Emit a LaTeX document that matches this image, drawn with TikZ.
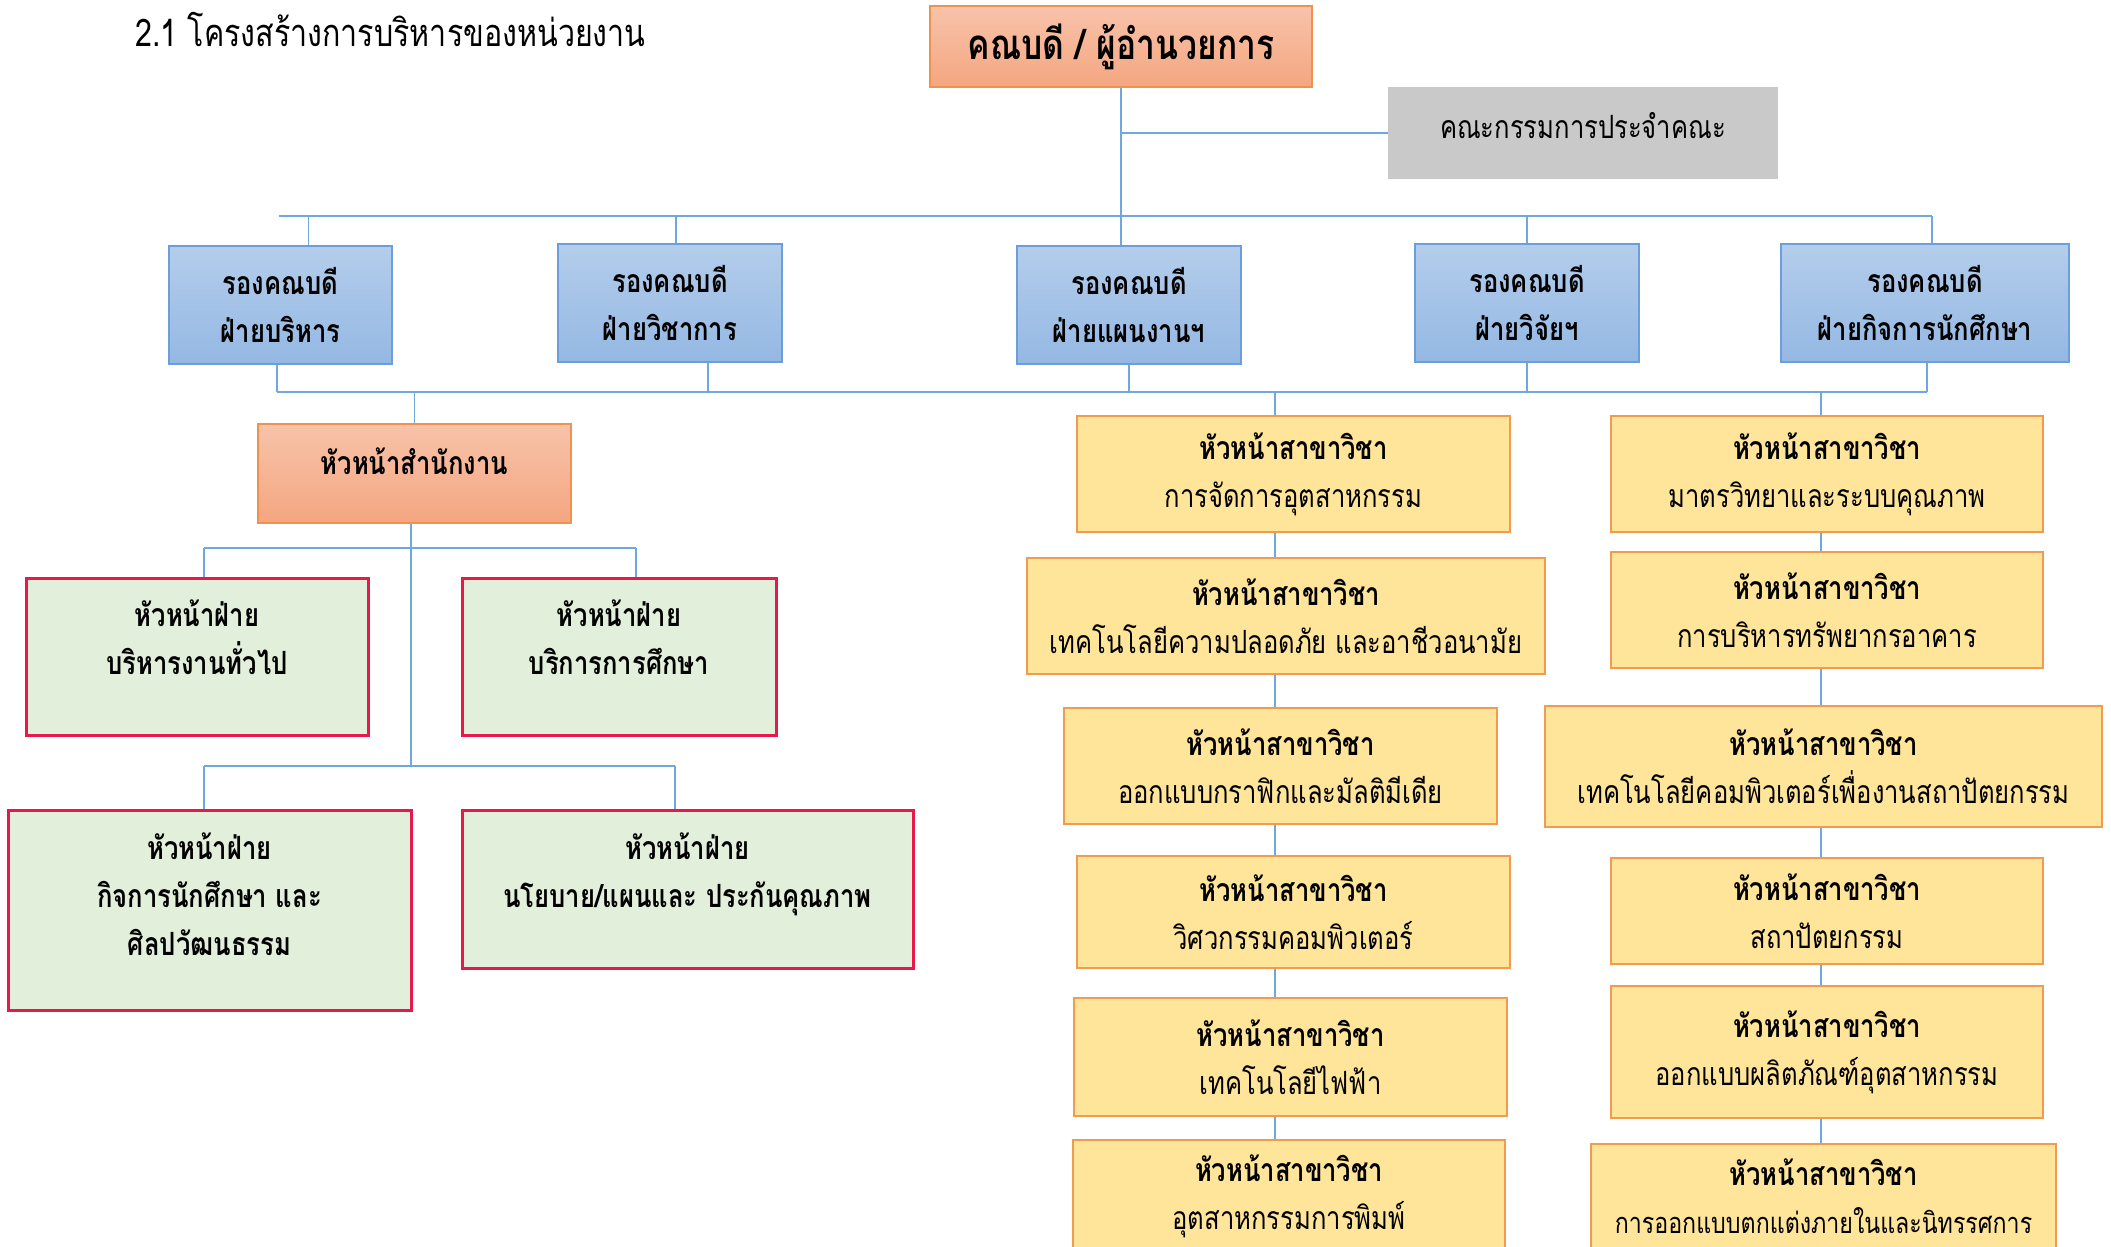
\documentclass[tikz,border=0pt]{standalone}
\usepackage{fontspec}
\newfontfamily\thaifont[Script=Thai, FakeStretch=0.8]{Loma}

\definecolor{peachtop}{HTML}{F8C3AA}
\definecolor{peachbot}{HTML}{F4A680}
\definecolor{peachline}{HTML}{F0924F}
\definecolor{bluetop}{HTML}{B4CDEB}
\definecolor{bluebot}{HTML}{94B8E3}
\definecolor{blueline}{HTML}{6A9FDB}
\definecolor{boardgray}{HTML}{C9C9C9}
\definecolor{greenfill}{HTML}{E2EFDA}
\definecolor{redline}{HTML}{E9184B}
\definecolor{yellowfill}{HTML}{FFE59A}
\definecolor{yellowline}{HTML}{F29B4E}
\definecolor{linkblue}{HTML}{6FA8DC}

\tikzset{
    sz/.style 2 args={minimum width=#1*0.5pt, minimum height=#2*0.5pt},
    txt/.style={font=\thaifont\fontsize{16}{24}\selectfont, align=center, inner sep=0pt, text=black},
    deanbox/.style={txt, draw=peachline, line width=1pt, top color=peachtop, bottom color=peachbot},
    boardbox/.style={txt, fill=boardgray},
    vicebox/.style={txt, draw=blueline, line width=1pt, top color=bluetop, bottom color=bluebot},
    unitbox/.style={txt, draw=redline, line width=1.5pt, fill=greenfill},
    headbox/.style={txt, draw=yellowline, line width=1pt, fill=yellowfill},
    raise/.style={text depth=#1},
    link/.style={draw=linkblue, line width=0.75pt},
    bus/.style={draw=linkblue, line width=1.2pt}
}

\begin{document}
\begin{tikzpicture}[x=0.5pt, y=-0.5pt]
    \clip (0,0) rectangle (2111,1247);
    \fill[white] (0,0) rectangle (2111,1247);

    \node[txt, anchor=west, font=\thaifont\fontsize{19}{24}\selectfont] (title) at (135,29) {2.1 โครงสร้างการบริหารของหน่วยงาน};

    % top level
    \node[deanbox, sz={382}{81}, font=\thaifont\bfseries\fontsize{21}{24}\selectfont] (top) at (1121,46.5) {คณบดี / ผู้อำนวยการ};
    \node[boardbox, sz={390}{92}, raise=8pt] (board) at (1583,133) {คณะกรรมการประจำคณะ};

    % vice deans
    \node[vicebox, sz={223}{118}] (v1) at (280.5,305) {\bfseries รองคณบดี\\\bfseries ฝ่ายบริหาร};
    \node[vicebox, sz={224}{118}] (v2) at (670,303) {\bfseries รองคณบดี\\\bfseries ฝ่ายวิชาการ};
    \node[vicebox, sz={224}{118}] (v3) at (1129,305) {\bfseries รองคณบดี\\\bfseries ฝ่ายแผนงานฯ};
    \node[vicebox, sz={224}{118}] (v4) at (1527,303) {\bfseries รองคณบดี\\\bfseries ฝ่ายวิจัยฯ};
    \node[vicebox, sz={288}{118}] (v5) at (1925,303) {\bfseries รองคณบดี\\\bfseries ฝ่ายกิจการนักศึกษา};

    % office
    \node[deanbox, sz={313}{99}, raise=12pt] (office) at (414.5,473.5) {\bfseries หัวหน้าสำนักงาน};
    \node[unitbox, sz={342}{157}, raise=19pt] (ga) at (197,656.5) {\bfseries หัวหน้าฝ่าย\\\bfseries บริหารงานทั่วไป};
    \node[unitbox, sz={314}{157}, raise=19pt] (gb) at (619,656.5) {\bfseries หัวหน้าฝ่าย\\\bfseries บริการการศึกษา};
    \node[unitbox, sz={403}{200}, raise=16pt] (gc) at (209.5,910) {\bfseries หัวหน้าฝ่าย\\\bfseries กิจการนักศึกษา และ\\\bfseries ศิลปวัฒนธรรม};
    \node[unitbox, sz={451}{158}, raise=19pt] (gd) at (687.5,889) {\bfseries หัวหน้าฝ่าย\\\bfseries นโยบาย/แผนและ ประกันคุณภาพ};

    % programme heads, left column
    \node[headbox, sz={433}{116}] (l1) at (1293.5,474) {\bfseries หัวหน้าสาขาวิชา\\การจัดการอุตสาหกรรม};
    \node[headbox, sz={518}{116}] (l2) at (1286,616) {\bfseries หัวหน้าสาขาวิชา\\เทคโนโลยีความปลอดภัย และอาชีวอนามัย};
    \node[headbox, sz={433}{116}] (l3) at (1280.5,766) {\bfseries หัวหน้าสาขาวิชา\\ออกแบบกราฟิกและมัลติมีเดีย};
    \node[headbox, sz={433}{112}] (l4) at (1293.5,912) {\bfseries หัวหน้าสาขาวิชา\\วิศวกรรมคอมพิวเตอร์};
    \node[headbox, sz={433}{118}] (l5) at (1290.5,1057) {\bfseries หัวหน้าสาขาวิชา\\เทคโนโลยีไฟฟ้า};
    \node[headbox, sz={432}{116}, raise=6pt] (l6) at (1289,1198) {\bfseries หัวหน้าสาขาวิชา\\อุตสาหกรรมการพิมพ์};

    % programme heads, right column
    \node[headbox, sz={432}{116}] (r1) at (1827,474) {\bfseries หัวหน้าสาขาวิชา\\มาตรวิทยาและระบบคุณภาพ};
    \node[headbox, sz={432}{116}] (r2) at (1827,610) {\bfseries หัวหน้าสาขาวิชา\\การบริหารทรัพยากรอาคาร};
    \node[headbox, sz={557}{121}] (r3) at (1823.5,766.5) {\bfseries หัวหน้าสาขาวิชา\\เทคโนโลยีคอมพิวเตอร์เพื่องานสถาปัตยกรรม};
    \node[headbox, sz={432}{106}] (r4) at (1827,911) {\bfseries หัวหน้าสาขาวิชา\\สถาปัตยกรรม};
    \node[headbox, sz={432}{132}] (r5) at (1827,1052) {\bfseries หัวหน้าสาขาวิชา\\ออกแบบผลิตภัณฑ์อุตสาหกรรม};
    \node[headbox, sz={465}{120}, raise=8pt] (r6) at (1823.5,1204) {\bfseries หัวหน้าสาขาวิชา\\{\fontsize{14.5}{24}\selectfont การออกแบบตกแต่งภายในและนิทรรศการ}};

    % connectors
    \coordinate (busL) at (279,216);
    \coordinate (busR) at (1932,216);
    \coordinate (lowL) at (277,392);
    \coordinate (lowR) at (1927,392);
    \coordinate (colL) at (1275,392);
    \coordinate (colR) at (1821,392);
    \coordinate (split1) at (411,548);
    \coordinate (split2) at (411,766);

    \draw[link] (top.south) -- (top.south |- v3.north);
    \draw[bus] (top.south |- board.west) -- (board.west);
    \draw[bus] (busL) -- (busR);
    \draw[link] ([xshift=14pt]v1.north) -- ([xshift=14pt]v1.north |- busL);
    \draw[link] ([xshift=3pt]v2.north) -- ([xshift=3pt]v2.north |- busL);
    \draw[link] (v4.north) -- (v4.north |- busL);
    \draw[link] (busR) -- (busR |- v5.north);

    \draw[bus] (lowL) -- (lowR);
    \draw[link] (v1.south -| lowL) -- (lowL);
    \draw[link] ([xshift=19pt]v2.south) -- ([xshift=19pt]v2.south |- lowL);
    \draw[link] (v3.south) -- (v3.south |- lowL);
    \draw[link] (v4.south) -- (v4.south |- lowL);
    \draw[link] (v5.south -| lowR) -- (lowR);

    \draw[link] (office.north) -- (office.north |- lowL);
    \draw[link] (colL) -- (colL |- l1.north);
    \draw[link] (colR) -- (colR |- r1.north);
    \foreach \a/\b in {l1/l2, l2/l3, l3/l4, l4/l5, l5/l6}
        \draw[link] (\a.south -| colL) -- (\b.north -| colL);
    \foreach \a/\b in {r1/r2, r2/r3, r3/r4, r4/r5, r5/r6}
        \draw[link] (\a.south -| colR) -- (\b.north -| colR);

    \draw[link] (office.south -| split1) -- (split2);
    \draw[bus] ([xshift=3.5pt]ga.north |- split1) -- ([xshift=8.5pt]gb.north |- split1);
    \draw[link] ([xshift=3.5pt]ga.north) -- ([xshift=3.5pt]ga.north |- split1);
    \draw[link] ([xshift=8.5pt]gb.north) -- ([xshift=8.5pt]gb.north |- split1);
    \draw[bus] ([xshift=-2.75pt]gc.north |- split2) -- ([xshift=-6.25pt]gd.north |- split2);
    \draw[link] ([xshift=-2.75pt]gc.north) -- ([xshift=-2.75pt]gc.north |- split2);
    \draw[link] ([xshift=-6.25pt]gd.north) -- ([xshift=-6.25pt]gd.north |- split2);
\end{tikzpicture}
\end{document}
